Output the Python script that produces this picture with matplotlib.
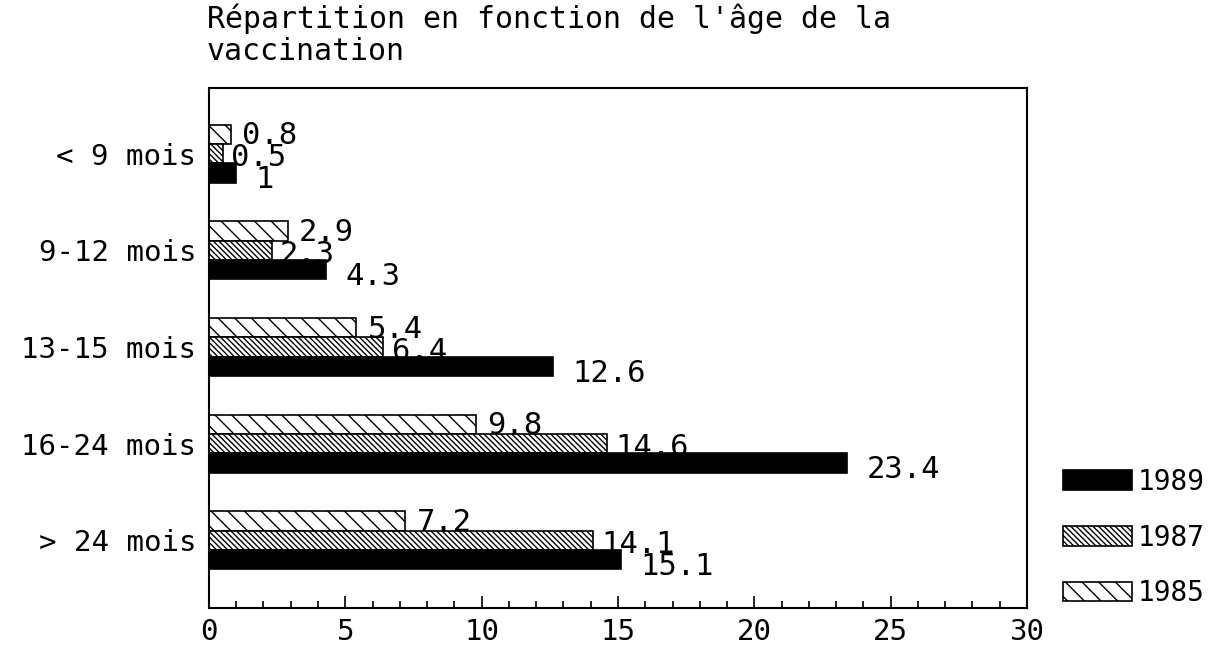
import numpy as np
import matplotlib
matplotlib.use("Agg")
import matplotlib.pyplot as plt
from matplotlib.ticker import MultipleLocator

categories = ["< 9 mois", "9-12 mois", "13-15 mois", "16-24 mois", "> 24 mois"]
years = ["1985", "1987", "1989"]
v1985 = [0.8, 2.9, 5.4, 9.8, 7.2]
v1987 = [0.5, 2.3, 6.4, 14.6, 14.1]
v1989 = [1, 4.3, 12.6, 23.4, 15.1]
xticks = [0, 5, 10, 15, 20, 25, 30]

plt.rcParams['font.family'] = ['DejaVu Sans Mono', 'DejaVu Sans']
plt.rcParams['hatch.linewidth'] = 1.0

fig = plt.figure(figsize=(12.17, 6.6), dpi=100)
ax = fig.add_axes([0.1717, 0.0788, 0.8439 - 0.1717, 0.8667 - 0.0788])

y = np.arange(len(categories))
h = 0.2
styles = {
    "1985": dict(facecolor="white", hatch="\\\\"),
    "1987": dict(facecolor="white", hatch="\\\\\\\\\\\\"),
    "1989": dict(facecolor="black", hatch=None),
}
series = {"1985": v1985, "1987": v1987, "1989": v1989}
offsets = {"1985": -h, "1987": 0.0, "1989": h}
label_dx = {"1985": 8, "1987": 6, "1989": 14}
label_dy = {"1985": -1, "1987": -3, "1989": -5}

for yr in years:
    bars = ax.barh(y + offsets[yr], series[yr], height=h, edgecolor="black",
                   linewidth=1.2, label=yr, **styles[yr])
    for b, v in zip(bars, series[yr]):
        ax.annotate("%g" % v, (b.get_width(), b.get_y() + b.get_height() / 2),
                    xytext=(label_dx[yr], label_dy[yr]), textcoords="offset points",
                    ha="left", va="center", fontsize=22, color="black")

ax.set_xlim(0, 30)
ax.set_ylim(len(categories) - 0.3, -0.68)
ax.set_yticks(y)
ax.set_yticklabels(categories, fontsize=21)
ax.tick_params(axis="y", length=0, pad=9)
ax.set_xticks(xticks)
ax.set_xticklabels([str(t) for t in xticks], fontsize=21)
ax.xaxis.set_minor_locator(MultipleLocator(1))
ax.tick_params(axis="x", which="major", direction="in", length=9, width=1.2, pad=7)
ax.tick_params(axis="x", which="minor", direction="in", length=5, width=1.2)
for s in ax.spines.values():
    s.set_linewidth(1.5)

handles, labels = ax.get_legend_handles_labels()
leg = ax.legend(handles[::-1], labels[::-1], loc="lower left",
                bbox_to_anchor=(1.03, -0.02), frameon=False, fontsize=20,
                handlelength=2.5, handleheight=0.7, labelspacing=1.0,
                handletextpad=0.2, borderaxespad=0)

fig.text(207 / 1217, 1 - 3 / 660, "Répartition en fonction de l'âge de la\nvaccination",
         ha="left", va="top", fontsize=21.5, linespacing=1.15)

fig.savefig("out.png", dpi=100)
